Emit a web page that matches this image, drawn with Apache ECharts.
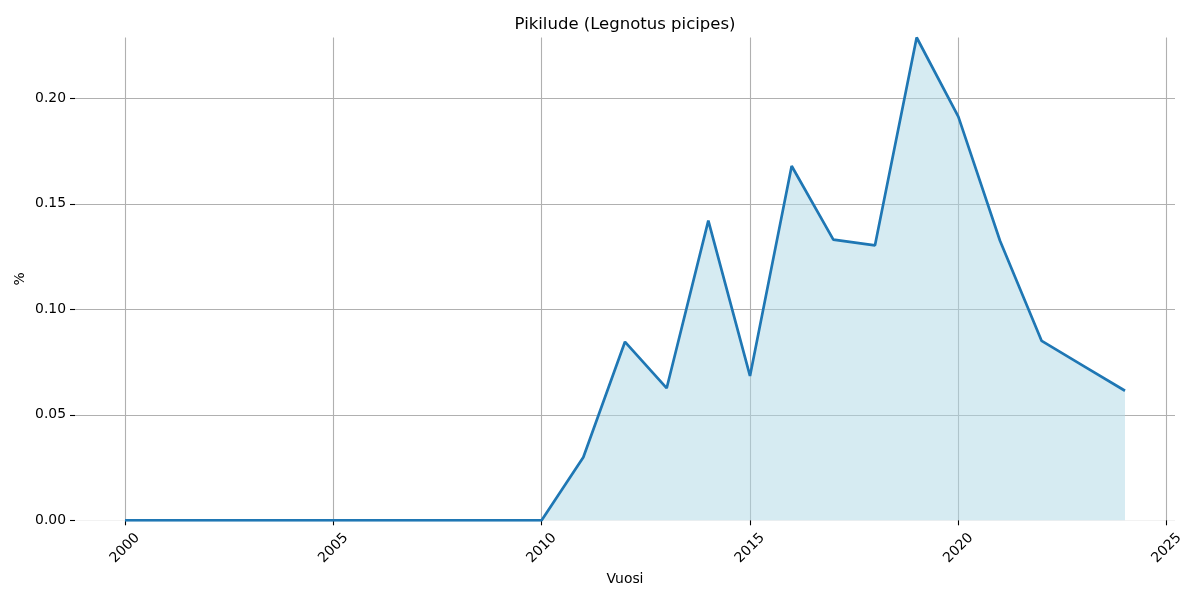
<!DOCTYPE html>
<html>
<head>
<meta charset="utf-8">
<script src="https://cdn.jsdelivr.net/npm/echarts@6/dist/echarts.min.js"></script>
<style>
html,body{margin:0;padding:0;background:#fff;}
#chart{width:1200px;height:600px;}
</style>
</head>
<body>
<div id="chart"></div>
<script>
const years = [2000,2001,2002,2003,2004,2005,2006,2007,2008,2009,2010,2011,2012,2013,2014,2015,2016,2017,2018,2019,2020,2021,2022,2023,2024];
const values = [0,0,0,0,0,0,0,0,0,0,0,0.0299,0.0846,0.0626,0.1420,0.0684,0.1679,0.1330,0.1303,0.2288,0.1913,0.1325,0.0850,0.0732,0.0614];
const xTicks = [2000,2005,2010,2015,2020,2025];
const yTicks = [0,0.05,0.10,0.15,0.20];
const titleText = 'Pikilude (Legnotus picipes)';
const xName = 'Vuosi';
const yName = '%';

const chart = echarts.init(document.getElementById('chart'), null, {renderer:'canvas'});
const font = 'DejaVu Sans';
const yMax = Math.max(...values);
const option = {
  animation: false,
  backgroundColor: '#ffffff',
  title: {
    text: titleText,
    left: 620, top: 11, textAlign: 'center',
    textStyle: {fontFamily: font, fontSize: 16.5, fontWeight: 'normal', color: '#000'}
  },
  grid: {left: 75, right: 25, top: 37.5, bottom: 79.7, containLabel: false, outerBoundsMode: 'none'},
  xAxis: {
    type: 'value',
    min: 1998.8, max: 2025.2,
    name: xName, nameLocation: 'middle', nameGap: 52, nameMoveOverlap: false,
    nameTextStyle: {fontFamily: font, fontSize: 13.9, color: '#000'},
    axisLine: {show: false},
    axisTick: {show: true, customValues: xTicks, length: 5, lineStyle: {color: '#000', width: 1.1}},
    axisLabel: {
      customValues: xTicks, rotate: 45, align: 'center', verticalAlign: 'middle', margin: 28,
      fontFamily: font, fontSize: 13.9, color: '#000',
      formatter: v => String(v)
    },
    splitLine: {show: true, lineStyle: {color: '#b0b0b0', width: 1.1}}
  },
  yAxis: {
    type: 'value',
    min: 0, max: yMax,
    name: yName, nameLocation: 'middle', nameGap: 48, nameRotate: 90, nameMoveOverlap: false,
    nameTextStyle: {fontFamily: font, fontSize: 13.9, color: '#000'},
    axisLine: {show: false},
    axisTick: {show: true, customValues: yTicks, length: 5, lineStyle: {color: '#000', width: 1.1}},
    axisLabel: {
      customValues: yTicks, margin: 9,
      fontFamily: font, fontSize: 13.9, color: '#000',
      formatter: v => v.toFixed(2)
    },
    splitLine: {show: true, lineStyle: {color: ['#f2f2f2','#b0b0b0','#b0b0b0','#b0b0b0','#b0b0b0'], width: 1.1}}
  },
  series: [{
    type: 'line',
    data: years.map((y,i) => [y, values[i]]),
    showSymbol: false,
    symbol: 'none',
    clip: true,
    lineStyle: {color: '#1f77b4', width: 2.7},
    areaStyle: {color: 'rgba(173,216,230,0.5)', opacity: 1, origin: 'start'},
    z: 2
  }]
};
chart.setOption(option);
</script>
</body>
</html>
